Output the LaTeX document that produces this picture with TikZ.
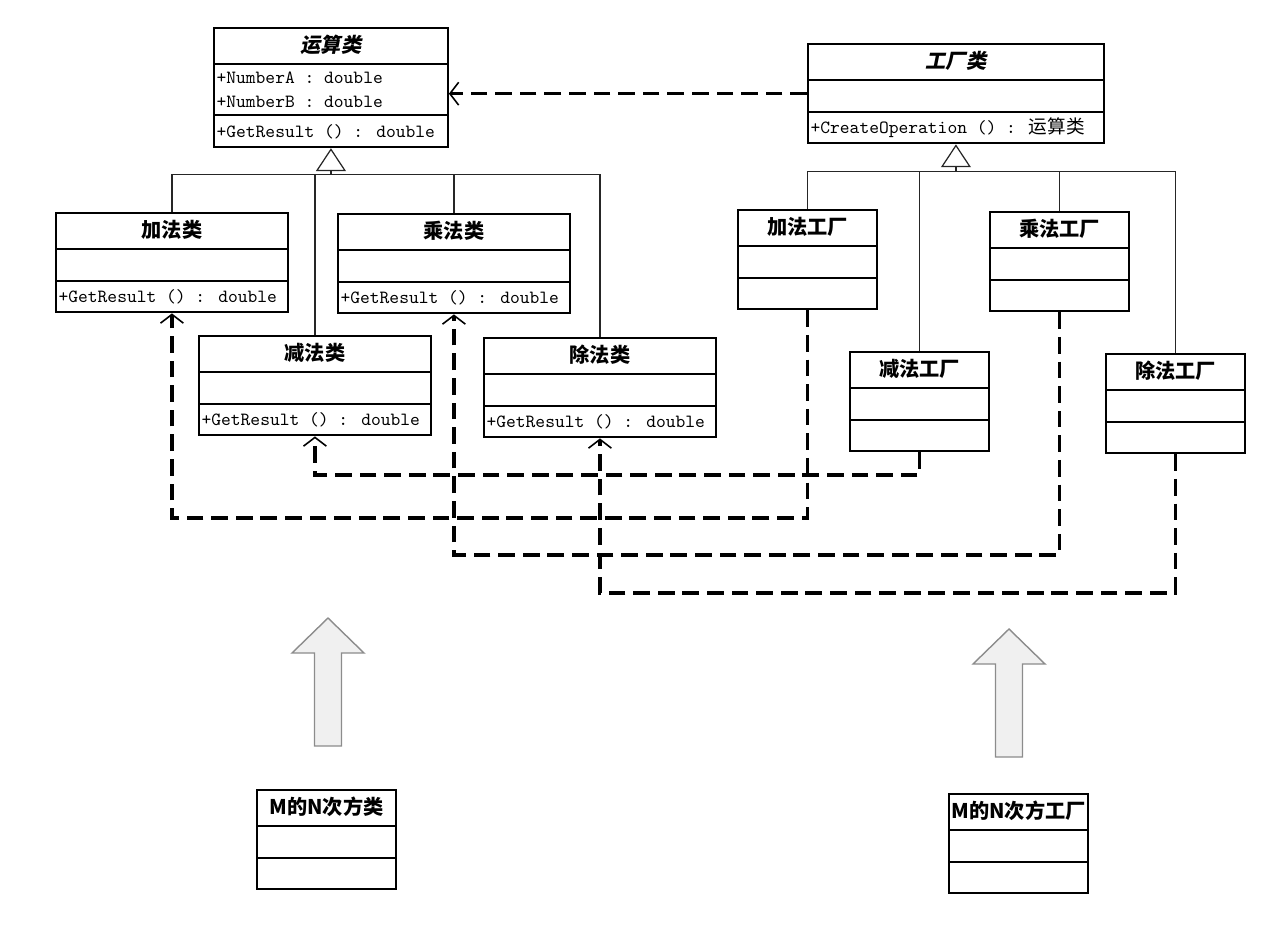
\documentclass[tikz,border=0pt]{standalone}
\usepackage{fontspec}
\newfontfamily\cjk{Noto Sans CJK SC}
\newfontfamily\cjksl{Noto Sans CJK SC}[FakeSlant=0.2]
\usepackage{tikz}
\usetikzlibrary{positioning,calc,arrows.meta,shapes.multipart}

\newcommand{\tstrut}{\rule[-6pt]{0pt}{19.3pt}}
\newcommand{\rstrut}{\rule[-5pt]{0pt}{17pt}}
\newcommand{\ttl}{\cjk\bfseries\fontsize{11.5}{12}\selectfont}
\newcommand{\ttlsl}{\cjksl\bfseries\fontsize{11.5}{12}\selectfont}
\newcommand{\mono}{\ttfamily\fontsize{10.6}{13.7}\selectfont}
\newcommand{\blockarrow}[1]{\draw[bigarr] (#1) -- ++(36,35) -- ++(-22.5,0) -- ++(0,93)
    -- ++(-27,0) -- ++(0,-93) -- ++(-22.5,0) -- cycle;}

\begin{document}
\begin{tikzpicture}[x=0.02cm, y=-0.02cm,
    cls/.style={draw, line width=1.1pt, rectangle split, rectangle split parts=3,
                rectangle split part align={center,left,left}, inner xsep=1.5pt, inner ysep=0pt,
                rectangle split empty part height=12pt, rectangle split empty part depth=5pt,
                anchor=north west, minimum width=4.64cm},
    fcls/.style={cls, minimum width=2.78cm},
    inh/.style={line width=0.7pt, draw=black!85},
    dep/.style={line width=1.9pt, dash pattern=on 9.5pt off 4.5pt,
                -{Straight Barb[length=5pt, width=13pt, line width=0.9pt]}},
    bigarr/.style={draw=black!45, fill=black!6, line width=0.8pt}]
    \useasboundingbox (0,0) rectangle (1266,946);
    % abstract classes
    \node[cls, minimum width=4.68cm] (op) at (213,27) {\tstrut\ttlsl 运算类%
        \nodepart{two}\vbox{\baselineskip=13.7pt
            \hbox{\rule{0pt}{10.8pt}\mono +NumberA : double}
            \hbox{\rule[-3.8pt]{0pt}{3.8pt}\mono +NumberB : double}}%
        \nodepart{three}\rstrut\mono +GetResult () : double};
    \node[cls, minimum width=5.92cm] (fac) at (807,43) {\tstrut\ttlsl 工厂类%
        \nodepart{two}\rstrut%
        \nodepart{three}\rstrut\mono +CreateOperation () : {\cjk 运算类}};
    % operations
    \node[cls] (add) at (55,212) {\tstrut\ttl 加法类%
        \nodepart{two}\rstrut\nodepart{three}\rstrut\mono +GetResult () : double};
    \node[cls] (mul) at (337,213) {\tstrut\ttl 乘法类%
        \nodepart{two}\rstrut\nodepart{three}\rstrut\mono +GetResult () : double};
    \node[cls] (sub) at (198,335) {\tstrut\ttl 减法类%
        \nodepart{two}\rstrut\nodepart{three}\rstrut\mono +GetResult () : double};
    \node[cls] (div) at (483,337) {\tstrut\ttl 除法类%
        \nodepart{two}\rstrut\nodepart{three}\rstrut\mono +GetResult () : double};
    % factories
    \node[fcls] (addf) at (737,209) {\tstrut\ttl 加法工厂\nodepart{two}\rstrut\nodepart{three}\rstrut};
    \node[fcls] (mulf) at (989,211) {\tstrut\ttl 乘法工厂\nodepart{two}\rstrut\nodepart{three}\rstrut};
    \node[fcls] (subf) at (849,351) {\tstrut\ttl 减法工厂\nodepart{two}\rstrut\nodepart{three}\rstrut};
    \node[fcls] (divf) at (1105,353) {\tstrut\ttl 除法工厂\nodepart{two}\rstrut\nodepart{three}\rstrut};
    % new ones
    \node[fcls] (pow) at (256,789) {\tstrut\ttl M的N次方类\nodepart{two}\rstrut\nodepart{three}\rstrut};
    \node[fcls] (powf) at (948,793) {\tstrut\ttl M的N次方工厂\nodepart{two}\rstrut\nodepart{three}\rstrut};

    % generalisation
    \coordinate (opbus) at ($(op.south)+(0,26)$);
    \coordinate (facbus) at ($(fac.south)+(0,27)$);
    \draw[inh] (add.north) |- (div.north |- opbus) -- (div.north);
    \draw[inh] (sub.north) -- (sub.north |- opbus);
    \draw[inh] (mul.north) -- (mul.north |- opbus);
    \draw[inh, -{Triangle[open, length=13pt, width=17pt]}] (opbus) -- (op.south);
    \draw[inh] (addf.north) |- (divf.north |- facbus) -- (divf.north);
    \draw[inh] (subf.north) -- (subf.north |- facbus);
    \draw[inh] (mulf.north) -- (mulf.north |- facbus);
    \draw[inh, -{Triangle[open, length=13pt, width=17pt]}] (facbus) -- (fac.south);

    % dependencies
    \coordinate (chsub) at (0,475);
    \coordinate (chadd) at (0,518);
    \coordinate (chmul) at (0,555);
    \coordinate (chdiv) at (0,593);
    \draw[dep] (fac.west) -- (fac.west -| op.east);
    \draw[dep] (subf.south) -- (subf.south |- chsub) -| (sub.south);
    \draw[dep] (addf.south) -- (addf.south |- chadd) -| (add.south);
    \draw[dep] (mulf.south) -- (mulf.south |- chmul) -| (mul.south);
    \draw[dep] (divf.south) -- (divf.south |- chdiv) -| (div.south);

    % extension arrows
    \coordinate (tipL) at (328,618);
    \coordinate (tipR) at (1009,629);
    \blockarrow{tipL}
    \blockarrow{tipR}
\end{tikzpicture}
\end{document}
